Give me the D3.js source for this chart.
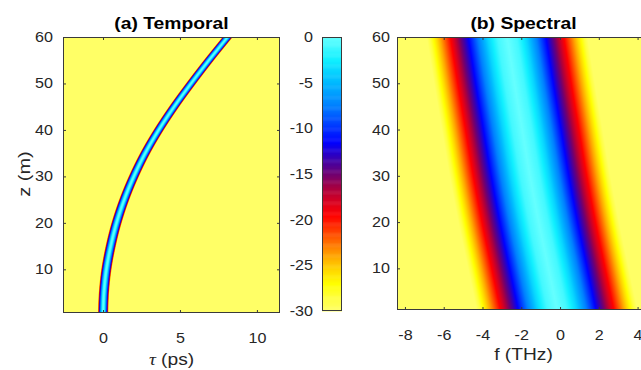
<!DOCTYPE html>
<html><head><meta charset="utf-8">
<script src="https://cdn.jsdelivr.net/npm/d3@7"></script>
<style>body{margin:0;background:#fff;} svg{display:block}</style>
</head><body>
<svg id="chart" width="641" height="370"></svg>
<script>
// ---- data ----
// (a) temporal: pulse-centre trajectory
const trajZ   = [0, 5, 10, 15, 20, 25, 30, 35, 40, 45, 50, 55, 60];
const trajTau = [0, 0.06, 0.22, 0.5, 0.88, 1.38, 2.0, 2.74, 3.62, 4.62, 5.72, 6.88, 8.1];
// temporal pulse profile (offset from centre, ps -> dB)
const pulseOffset = [0, 0.08, 0.13, 0.19, 0.23, 0.27, 0.3, 0.33, 0.36];
const pulseDb     = [0, -1.5, -5, -8, -11.5, -15, -19, -25, -32];
// (b) spectral: spectrum-centre trajectory
const specZ      = [1, 10, 20, 30, 40, 50, 60];
const specCenter = [-0.15, -0.6, -1.1, -1.55, -1.95, -2.35, -2.73];
// spectral profile (offset from centre, THz -> dB)
const specOffset = [0, 0.5, 1, 1.5, 2, 2.5, 3, 3.5, 4, 4.5];
const specDb     = [0, -1.0, -3.7, -7.4, -11.5, -15.7, -20.1, -24.4, -28.7, -33.1];
// colormap
const cmapValues = [-30, -28.5, -27, -25.5, -24, -22.5, -21, -19.5, -18, -16.5, -15, -13.5, -11.5, -10, -7.5, -5, -2.5, 0];
const cmapColors = ["#ffff66", "#ffff40", "#ffff00", "#ffd800", "#ffa800", "#ff7000", "#ff3800", "#ff0000", "#d80020", "#a80040", "#700070", "#4000a8", "#0000ff", "#0030ff", "#0080ff", "#00b8ff", "#10f0ff", "#66ffff"];
// ticks
const zTicks = [10, 20, 30, 40, 50, 60];
const tauTicks = [0, 5, 10];
const fTicks = [-8, -6, -4, -2, 0, 2, 4];
const cTicks = [0, -5, -10, -15, -20, -25, -30];

// ---- setup ----
const svg = d3.select("#chart");
const FONT = "'Liberation Sans', Arial, Helvetica, sans-serif";
const SX = 1.15, SXL = 1.2;
const TXT = "#262626", BOX = "#3a3a3a";
const fmt = d => String(d);

const color = d3.scaleLinear().domain(cmapValues).range(cmapColors).clamp(true);
const lut = d3.range(0, 601).map(i => { const c = d3.rgb(color(-30 + i * 0.05)); return [c.r, c.g, c.b]; });
function lutColor(v) { let i = Math.round((Math.max(-30, Math.min(0, v)) + 30) / 0.05); return lut[i]; }

// smooth (Catmull-Rom) interpolation through the read trajectory points
function smoothInterp(xs, ys) {
  const n = xs.length;
  return function(x) {
    if (x <= xs[0]) return ys[0];
    if (x >= xs[n - 1]) return ys[n - 1];
    let i = d3.bisectRight(xs, x) - 1;
    const x0 = xs[i], x1 = xs[i + 1], h = x1 - x0, t = (x - x0) / h;
    const y0 = ys[i], y1 = ys[i + 1];
    const m0 = i > 0 ? (ys[i + 1] - ys[i - 1]) / (xs[i + 1] - xs[i - 1]) * h : (y1 - y0);
    const m1 = i < n - 2 ? (ys[i + 2] - ys[i]) / (xs[i + 2] - xs[i]) * h : (y1 - y0);
    const t2 = t * t, t3 = t2 * t;
    return (2 * t3 - 3 * t2 + 1) * y0 + (t3 - 2 * t2 + t) * m0 + (-2 * t3 + 3 * t2) * y1 + (t3 - t2) * m1;
  };
}
const traj = smoothInterp(trajZ, trajTau);
const pulse = d3.scaleLinear().domain(pulseOffset).range(pulseDb).clamp(true);
const spec = smoothInterp(specZ, specCenter);
const specP = d3.scaleLinear().domain(specOffset).range(specDb).clamp(true);

const A = {x0: 63, x1: 280, y0: 37, y1: 313};
const B = {x0: 397, x1: 650, y0: 37, y1: 310};
const xA = d3.scaleLinear().domain([-2.6, 11.5]).range([A.x0, A.x1]);
const yA = d3.scaleLinear().domain([0.6, 60]).range([A.y1, A.y0]);
const xB = d3.scaleLinear().domain([-8.41, 4.64]).range([B.x0, B.x1]);
const yB = d3.scaleLinear().domain([1, 60]).range([B.y1, B.y0]);

function heat(P, xs, ys, fn, ss) {
  const w = Math.round((P.x1 - P.x0) * ss), h = Math.round((P.y1 - P.y0) * ss);
  const cv = document.createElement("canvas"); cv.width = w; cv.height = h;
  const ctx = cv.getContext("2d"); const img = ctx.createImageData(w, h);
  for (let j = 0; j < h; j++) {
    const d = ys.invert(P.y0 + (j + 0.5) / ss);
    for (let i = 0; i < w; i++) {
      const v = fn(xs.invert(P.x0 + (i + 0.5) / ss), d);
      const c = lutColor(v); const k = (j * w + i) * 4;
      img.data[k] = c[0]; img.data[k + 1] = c[1]; img.data[k + 2] = c[2]; img.data[k + 3] = 255;
    }
  }
  ctx.putImageData(img, 0, 0);
  svg.append("image").attr("x", P.x0).attr("y", P.y0)
    .attr("width", P.x1 - P.x0).attr("height", P.y1 - P.y0)
    .attr("preserveAspectRatio", "none").attr("href", cv.toDataURL());
}

heat(A, xA, yA, (tau, z) => pulse(Math.abs(tau - traj(z))), 2);
heat(B, xB, yB, (f, z) => specP(Math.abs(f - spec(z))), 2);

function styleAxis(g, pad, side) {
  g.select(".domain").remove();
  g.selectAll("line").attr("stroke", BOX);
  g.selectAll("text").attr("fill", TXT).attr("font-family", FONT).attr("font-size", 14)
    .attr("transform", `scale(${SX},1)`);
  if (side === "left") g.selectAll("text").attr("x", -pad / SX);
}
function noLabels(g) { g.select(".domain").remove(); g.selectAll("text").remove(); g.selectAll("line").attr("stroke", BOX); }

function panelAxes(P, xs, ys, xt, yt, lpad, bpad) {
  const gl = svg.append("g").attr("transform", `translate(${P.x0},0)`)
    .call(d3.axisLeft(ys).tickValues(yt).tickSize(-3).tickPadding(lpad).tickFormat(fmt));
  styleAxis(gl, lpad, "left");
  const gb = svg.append("g").attr("transform", `translate(0,${P.y1})`)
    .call(d3.axisBottom(xs).tickValues(xt).tickSize(-3).tickPadding(bpad).tickFormat(fmt));
  styleAxis(gb, bpad, "bottom");
  const gt = svg.append("g").attr("transform", `translate(0,${P.y0})`)
    .call(d3.axisTop(xs).tickValues(xt).tickSize(-3)); noLabels(gt);
  const gr = svg.append("g").attr("transform", `translate(${P.x1},0)`)
    .call(d3.axisRight(ys).tickValues(yt).tickSize(-3)); noLabels(gr);
  svg.append("rect").attr("x", P.x0 + 0.5).attr("y", P.y0 + 0.5)
    .attr("width", P.x1 - P.x0 - 1).attr("height", P.y1 - P.y0 - 1)
    .attr("fill", "none").attr("stroke", BOX).attr("stroke-width", 1);
}
panelAxes(A, xA, yA, tauTicks, zTicks, 10, 20);
panelAxes(B, xB, yB, fTicks, zTicks, 7, 20);

// colorbar
const C = {x0: 322, x1: 342, y0: 37, y1: 311};
const cS = d3.scaleLinear().domain([-30, 0]).range([C.y1, C.y0]);
const steps = d3.range(-30, 0, 0.1);
svg.append("g").selectAll("rect").data(steps).join("rect")
  .attr("x", C.x0).attr("width", C.x1 - C.x0)
  .attr("y", d => cS(d + 0.1)).attr("height", d => cS(d) - cS(d + 0.1) + 0.5)
  .attr("fill", d => color(d + 0.05));
svg.append("rect").attr("x", C.x0 + 0.5).attr("y", C.y0 + 0.5)
  .attr("width", C.x1 - C.x0 - 1).attr("height", C.y1 - C.y0 - 1)
  .attr("fill", "none").attr("stroke", BOX);
const gc = svg.append("g").attr("transform", `translate(${C.x0},0)`)
  .call(d3.axisLeft(cS).tickValues(cTicks).tickSize(0).tickPadding(9).tickFormat(fmt));
styleAxis(gc, 9, "left");

// titles & labels
function label(x, y, rot, sx, parts, opts) {
  const g = svg.append("g").attr("transform", `translate(${x},${y}) rotate(${rot}) scale(${sx},1)`);
  const t = g.append("text").attr("text-anchor", "middle").attr("fill", opts.fill || TXT)
    .attr("font-family", FONT).attr("font-size", opts.size).attr("font-weight", opts.weight || "normal");
  parts.forEach(p => {
    const s = t.append("tspan").text(p.t);
    if (p.serif) s.attr("font-family", "'Liberation Serif', 'DejaVu Serif', serif").attr("font-style", "italic");
  });
}
label(171.5, 29, 0, SX, [{t: "(a) Temporal"}], {size: 16.8, weight: "bold", fill: "#000"});
label(523.5, 29, 0, SX, [{t: "(b) Spectral"}], {size: 16.8, weight: "bold", fill: "#000"});
label(30, 174, -90, 1.25, [{t: "z (m)"}], {size: 16});
label(171.5, 365, 0, SXL, [{t: "τ", serif: true}, {t: " (ps)"}], {size: 16});
label(523.5, 360, 0, SXL, [{t: "f (THz)"}], {size: 16});
</script>
</body></html>
